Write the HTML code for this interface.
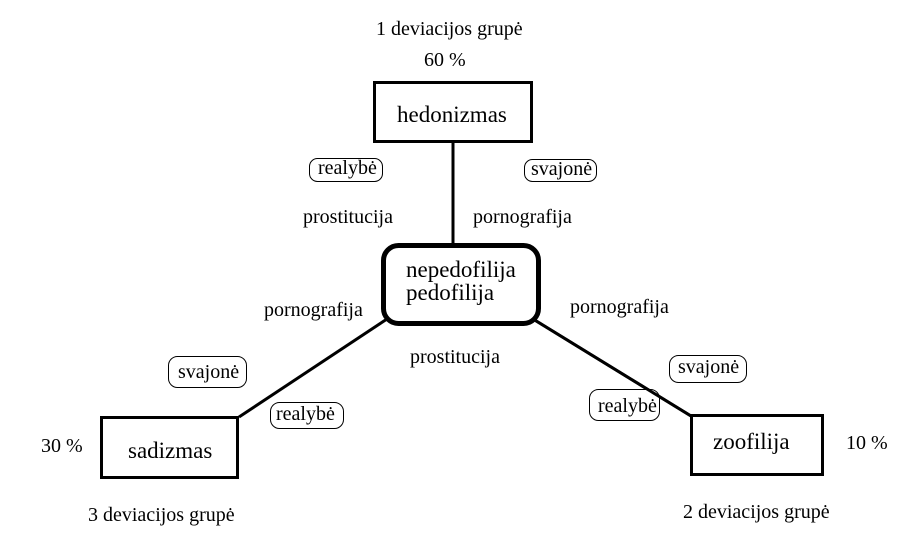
<!DOCTYPE html>
<html>
<head>
<meta charset="utf-8">
<style>
html,body{margin:0;padding:0;background:#fff;}
svg{display:block;}
text{font-family:"Liberation Serif","Times New Roman",serif;fill:#000;}
.s{font-size:20px;}
.b{font-size:23px;}
</style>
</head>
<body>
<svg width="908" height="545" viewBox="0 0 908 545" xmlns="http://www.w3.org/2000/svg">
<rect x="0" y="0" width="908" height="545" fill="#fff"/>
<!-- connectors -->
<line x1="453" y1="143" x2="453" y2="246" stroke="#000" stroke-width="3"/>
<line x1="239" y1="417" x2="387" y2="319" stroke="#000" stroke-width="3"/>
<line x1="533" y1="319" x2="691" y2="416" stroke="#000" stroke-width="3"/>
<!-- boxes -->
<rect x="374.5" y="82.5" width="157" height="59" fill="#fff" stroke="#000" stroke-width="3"/>
<rect x="383.5" y="245.5" width="155" height="78" rx="15" ry="15" fill="#fff" stroke="#000" stroke-width="5"/>
<rect x="101.5" y="417.5" width="136" height="60" fill="#fff" stroke="#000" stroke-width="3"/>
<rect x="691.5" y="415.5" width="131" height="59" fill="#fff" stroke="#000" stroke-width="3"/>
<!-- small rounded label boxes -->
<rect x="309.5" y="158.5" width="73" height="23" rx="8" ry="8" fill="#fff" stroke="#000" stroke-width="1"/>
<rect x="524.5" y="159.5" width="72" height="22" rx="8" ry="8" fill="#fff" stroke="#000" stroke-width="1"/>
<rect x="168.5" y="356.5" width="78" height="31" rx="9" ry="9" fill="#fff" stroke="#000" stroke-width="1"/>
<rect x="270.5" y="402.5" width="73" height="26" rx="9" ry="9" fill="#fff" stroke="#000" stroke-width="1"/>
<rect x="669.5" y="355.5" width="77" height="27" rx="9" ry="9" fill="#fff" stroke="#000" stroke-width="1"/>
<rect x="589.5" y="389.5" width="70" height="31" rx="9" ry="9" fill="#fff" stroke="#000" stroke-width="1"/>
<!-- redraw right diagonal over label box edge -->
<line x1="533" y1="319" x2="691" y2="416" stroke="#000" stroke-width="3"/>
<!-- big labels -->
<text class="b" x="397" y="122">hedonizmas</text>
<text class="b" x="406" y="277">nepedofilija</text>
<text class="b" x="406" y="300">pedofilija</text>
<text class="b" x="128" y="458">sadizmas</text>
<text class="b" x="713" y="449">zoofilija</text>
<!-- small labels -->
<text class="s" x="376" y="35">1 deviacijos grupė</text>
<text class="s" x="424" y="66">60 %</text>
<text class="s" x="318" y="174">realybė</text>
<text class="s" x="531" y="175">svajonė</text>
<text class="s" x="303" y="223">prostitucija</text>
<text class="s" x="473" y="223">pornografija</text>
<text class="s" x="264" y="316">pornografija</text>
<text class="s" x="570" y="313">pornografija</text>
<text class="s" x="410" y="363">prostitucija</text>
<text class="s" x="178" y="378">svajonė</text>
<text class="s" x="276" y="420">realybė</text>
<text class="s" x="678" y="373">svajonė</text>
<text class="s" x="598" y="412">realybė</text>
<text class="s" x="41" y="452">30 %</text>
<text class="s" x="846" y="449">10 %</text>
<text class="s" x="88" y="521">3 deviacijos grupė</text>
<text class="s" x="683" y="518">2 deviacijos grupė</text>
</svg>
</body>
</html>
